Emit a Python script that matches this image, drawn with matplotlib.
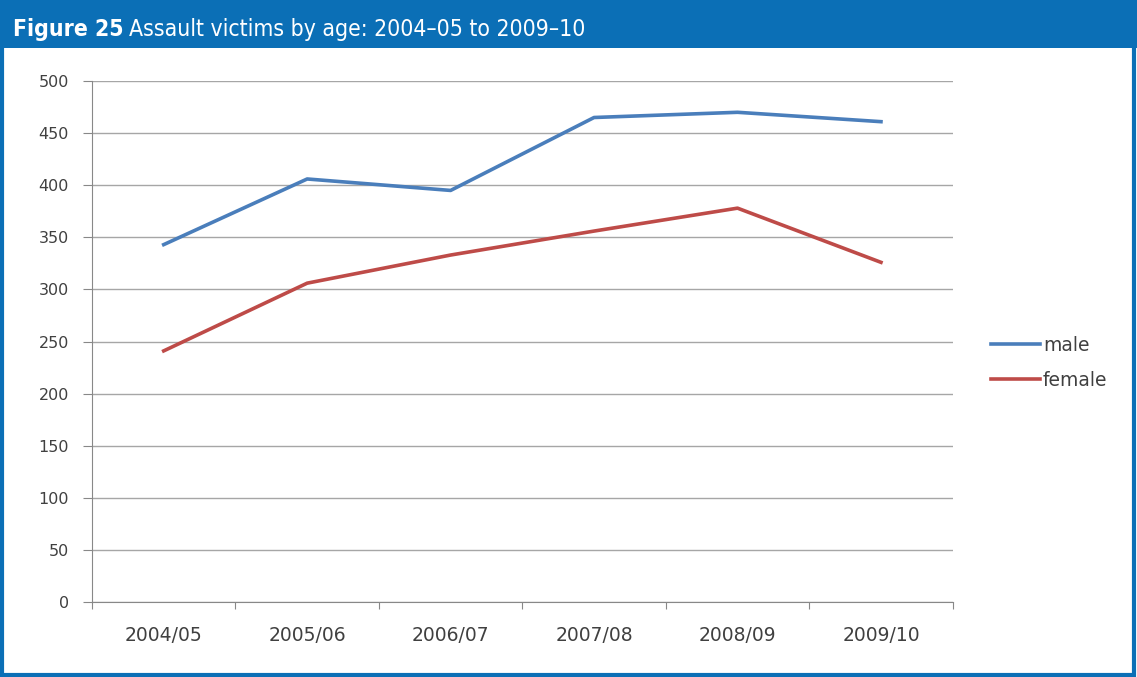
import matplotlib
matplotlib.use("Agg")
import matplotlib.pyplot as plt
from matplotlib.patches import Rectangle

# Data
years = ["2004/05", "2005/06", "2006/07", "2007/08", "2008/09", "2009/10"]
male = [343, 406, 395, 465, 470, 461]
female = [241, 306, 333, 356, 378, 326]

blue = "#0b6fb6"
fig = plt.figure(figsize=(11.37, 6.77), dpi=100)

# Frame and title bar
fig.patches.append(Rectangle((0.002, 0.003), 0.995, 0.99, transform=fig.transFigure,
                             fill=False, edgecolor=blue, linewidth=3))
fig.patches.append(Rectangle((0, 0.929), 1, 0.071, transform=fig.transFigure,
                             facecolor=blue, edgecolor="none"))
t1 = fig.text(0.011, 0.957, "Figure 25", color="white", fontsize=16.5, fontweight="bold",
              va="center", family="DejaVu Sans", fontstretch="condensed")
fig.canvas.draw()
bb = t1.get_window_extent()
x2 = bb.x1 / fig.bbox.width + 0.005
fig.text(x2, 0.957, "Assault victims by age: 2004\u201305 to 2009\u201310", color="white",
         fontsize=16.5, va="center", family="DejaVu Sans", fontstretch="condensed")

ax = fig.add_axes([0.0809, 0.1108, 0.757, 0.7695])
x = list(range(len(years)))
ax.plot(x, male, color="#4a7ebb", linewidth=2.6, label="male")
ax.plot(x, female, color="#be4b48", linewidth=2.6, label="female")

ax.set_xlim(-0.5, len(years) - 0.5)
ax.set_ylim(0, 500)
ax.set_yticks(range(0, 501, 50))
ax.yaxis.grid(True, color="#a6a6a6", linewidth=1)
ax.set_axisbelow(True)

ax.set_xticks([i - 0.5 for i in range(len(years) + 1)])
ax.set_xticklabels([])
ax.set_xticks(x, minor=True)
ax.set_xticklabels(years, minor=True)
ax.tick_params(axis="x", which="minor", length=0, pad=17.5)
ax.tick_params(axis="x", which="major", length=5, color="#888888")
ax.tick_params(axis="y", length=6.5, color="#888888", pad=10)

for lab in ax.get_xticklabels(minor=True):
    lab.set_fontsize(13.5)
    lab.set_color("#404040")
for lab in ax.get_yticklabels():
    lab.set_fontsize(11.5)
    lab.set_color("#404040")

for s in ["top", "right"]:
    ax.spines[s].set_visible(False)
for s in ["left", "bottom"]:
    ax.spines[s].set_color("#888888")

leg = fig.legend(loc="center left", bbox_to_anchor=(0.857, 0.464), frameon=False,
                 handlelength=2.6, handletextpad=0.15, labelspacing=0.85,
                 prop={"size": 13.5})
for txt in leg.get_texts():
    txt.set_color("#404040")

fig.savefig("out.png", dpi=100)
